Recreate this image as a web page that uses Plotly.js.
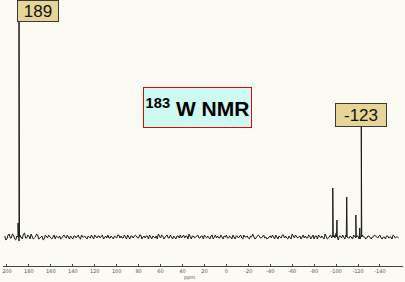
<!DOCTYPE html>
<html>
<head>
<meta charset="utf-8">
<script src="https://cdn.plot.ly/plotly-3.0.1.min.js"></script>
<style>html,body{margin:0;padding:0;background:#fbfbf3;}#chart{width:405px;height:282px;}</style>
</head>
<body>
<div id="chart"></div>
<script>
// Chemical shift axis (ppm)
const tickValues = [200,180,160,140,120,100,80,60,40,20,0,-20,-40,-60,-80,-100,-120,-140];
const noiseStart = 202;   // ppm of first baseline sample (even ppm)
const noiseStep = -2;     // ppm between baseline samples
const baselineNoise = [
  1,-2,3,-1,2,-3,0,2,-2,4,-1,1,3,-2,0,2,-1,1,-2,0,
  2,-1,1,-2,0,1,-1,2,-1,0,1,-2,1,0,-1,2,0,-1,1,-1,
  0,2,-1,1,0,-2,1,2,-1,0,1,-1,2,1,-1,0,2,-2,1,0,
  1,-1,2,0,-1,1,2,-2,0,1,3,-1,1,0,2,-1,0,1,-2,1,
  2,0,-1,1,3,-2,1,0,2,-1,1,2,-1,0,1,-2,2,1,-1,0,
  1,2,-1,0,2,-2,1,1,-1,2,0,-1,1,3,-2,0,1,-1,2,0,
  -1,1,2,-2,0,1,-1,2,1,-2,0,3,-1,1,0,-2,2,1,-1,1,
  0,-2,1,2,-1,0,3,-2,1,-1,2,4,-3,1,2,-2,3,-1,0,2,
  -1,1,-2,2,0,-1,1,-2,0,1,-1,2,-2,0,1,-1,0,2,-1,0
];
const midNoiseStart = 201; // ppm of first in-between sample (odd ppm)
const baselineNoiseMid = [
  -3,2,-1,3,-2,1,-4,0,3,-1,2,-2,0,-1,3,-2,1,-3,2,-1,
  0,-2,2,1,-1,-2,1,0,2,-2,-1,1,-1,2,-2,0,1,-2,0,2,
  -2,0,1,-1,2,0,-1,-1,1,-2,0,2,-1,-1,2,-2,0,1,-1,2,
  -1,2,-2,1,1,-2,0,1,-1,-2,1,2,-2,1,-1,2,-2,0,1,-1,
  -1,2,1,-2,0,1,-1,2,-1,1,-2,0,1,-2,2,0,-1,-1,2,-2,
  0,-1,1,-2,0,1,-1,2,-2,0,1,-2,0,1,-1,2,-1,1,-1,-2,
  1,-1,0,2,-2,0,2,-1,-1,1,-2,0,2,-1,1,0,-1,-1,2,-2,
  2,1,-2,0,1,-2,1,-1,2,1,-1,2,1,-1,0,2,-1,1,-2,0,
  1,-2,1,0,-2,1,-1,0,2,-1,1,-1,0,-2,1,0,-2,1,0,-1
];
const peakShifts  = [189, 189.9, 188.2, -97, -100.8, -109.7, -118, -123, -121.6];
const peakHeights = [215, 14, 10, 49, 17, 40, 22, 110, 9];
const labelTexts  = ['189', '-123'];

// build spectrum points
let pts = [];
baselineNoise.forEach((v,i)=>pts.push([noiseStart + i*noiseStep, v]));
baselineNoiseMid.forEach((v,i)=>pts.push([midNoiseStart + i*noiseStep, v]));
peakShifts.forEach((p,i)=>{
  pts.push([p+0.4, 0]);
  pts.push([p, peakHeights[i]]);
  pts.push([p-0.4, 0]);
});
pts.sort((a,b)=>b[0]-a[0]);
const xs = pts.map(p=>p[0]);
const ys = pts.map(p=>p[1]);

const W = 400, H = 266, L = 3, T = 0;
function px(xPix){ return (xPix - L)/W; }
function py(yPix){ return (H - (yPix - T))/H; }

const data = [{
  type:'scatter', mode:'lines', x:xs, y:ys,
  line:{color:'#1a1a1a', width:1}, hoverinfo:'skip'
}];

const boxFont = {family:'Liberation Sans, Arial, sans-serif', size:17, color:'#111'};
const layout = {
  width:405, height:282,
  margin:{l:L, r:2, t:T, b:16},
  paper_bgcolor:'#fbfbf3', plot_bgcolor:'#fbfbf3',
  showlegend:false,
  xaxis:{
    range:[203.6,-161], tickvals:tickValues, ticktext:tickValues.map(String),
    showgrid:false, zeroline:false, showline:true, linecolor:'#444', linewidth:1,
    ticks:'inside', ticklen:2, tickcolor:'#444',
    tickfont:{family:'DejaVu Sans, sans-serif', size:5, color:'#555'},
    ticklabelstandoff:0
  },
  yaxis:{range:[-29,237], visible:false, showgrid:false, zeroline:false},
  annotations:[
    {xref:'paper', yref:'paper', x:px(38), y:py(11), xanchor:'center', yanchor:'middle',
     text:labelTexts[0], showarrow:false, font:boxFont,
     bgcolor:'#e6d597', bordercolor:'#3a3a3a', borderwidth:1, borderpad:0, width:40, height:20},
    {xref:'paper', yref:'paper', x:px(361), y:py(115), xanchor:'center', yanchor:'middle',
     text:labelTexts[1], showarrow:false, font:boxFont,
     bgcolor:'#e6d597', bordercolor:'#3a3a3a', borderwidth:1, borderpad:0, width:50, height:22},
    {xref:'paper', yref:'paper', x:px(197.5), y:py(107.5), xanchor:'center', yanchor:'middle',
     text:'<sup>183</sup> W NMR', showarrow:false,
     font:{family:'Liberation Sans, Arial, sans-serif', size:21, color:'#000', weight:'bold'},
     bgcolor:'#cdfaf1', bordercolor:'#e8000b', borderwidth:1, borderpad:0, width:107, height:39},
    {xref:'paper', yref:'paper', x:px(189), y:py(272), xanchor:'center', yanchor:'top',
     text:'ppm', showarrow:false,
     font:{family:'DejaVu Sans, sans-serif', size:5, color:'#555'}}
  ]
};
Plotly.newPlot('chart', data, layout, {displayModeBar:false, staticPlot:true});
</script>
</body>
</html>
